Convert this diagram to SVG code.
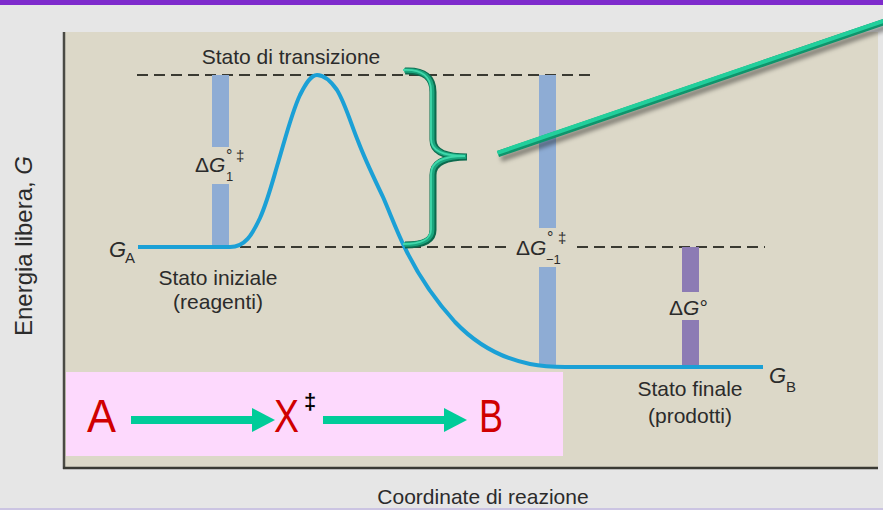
<svg xmlns="http://www.w3.org/2000/svg" width="883" height="510" viewBox="0 0 883 510">
  <style>
    .lbl { font-family: "Liberation Sans", Arial, sans-serif; font-size: 21px; fill: #2b2b2b; }
    .sym { font-family: "Liberation Sans", Arial, sans-serif; font-size: 21px; fill: #2b2b2b; }
    .it { font-style: italic; }
    .dash { stroke: #3a3a32; stroke-width: 2.2; stroke-dasharray: 11 6; fill: none; }
    .bbar { fill: #8eacd4; }
    .pbar { fill: #8c7bb4; }
    .big { font-family: "Liberation Sans", Arial, sans-serif; font-size: 47px; fill: #d00000; }
    .arrow { fill: #00cc99; }
  </style>
  <defs>
    <filter id="shadow" x="-10%" y="-50%" width="120%" height="200%">
      <feGaussianBlur stdDeviation="2"/>
    </filter>
  </defs>

  <!-- background -->
  <rect x="0" y="0" width="883" height="510" fill="#e6e6e6"/>
  <rect x="0" y="0" width="883" height="5" fill="#7e2bcc"/>
  <rect x="0" y="508" width="883" height="2" fill="#cbc4e2"/>

  <!-- plot area -->
  <g id="plot-area">
    <rect x="64" y="32" width="814" height="436" fill="#dcd8c8"/>
    <line x1="64" y1="32" x2="64" y2="469" stroke="#4a4a44" stroke-width="2.5"/>
    <line x1="63" y1="468" x2="878" y2="468" stroke="#3a3a34" stroke-width="2.5"/>
  </g>

  <!-- axis labels -->
  <g id="y-axis-label">
    <text class="lbl" text-anchor="middle" transform="translate(32,246) rotate(-90)" style="font-size:24px">Energia libera, <tspan class="it">G</tspan></text>
  </g>
  <g id="x-axis-label">
    <text class="lbl" x="483" y="504" text-anchor="middle">Coordinate di reazione</text>
  </g>

  <!-- pink reaction box -->
  <g id="reaction-box">
    <rect x="66" y="372" width="497" height="84" fill="#fdd9fd"/>
  </g>

  <!-- dashed reference lines -->
  <g id="reference-lines">
    <line class="dash" x1="137" y1="75" x2="592" y2="75"/>
    <line class="dash" x1="240" y1="247" x2="508" y2="247"/>
    <line class="dash" x1="577" y1="247" x2="765" y2="247"/>
  </g>

  <!-- energy bars -->
  <g id="bar-dG1">
    <rect class="bbar" x="212" y="75" width="17" height="72"/>
    <rect class="bbar" x="212" y="184" width="17" height="63"/>
    <text class="sym" x="195" y="172">Δ<tspan class="it">G</tspan></text>
    <text class="sym" x="226" y="161" style="font-size:16px">°</text>
    <text class="sym" x="226" y="181" style="font-size:13px">1</text>
    <text class="sym" x="236" y="161" style="font-size:15px">‡</text>
  </g>
  <g id="bar-dGm1">
    <rect class="bbar" x="539" y="75" width="17" height="153"/>
    <rect class="bbar" x="539" y="267" width="17" height="100"/>
    <text class="sym" x="516" y="255">Δ<tspan class="it">G</tspan></text>
    <text class="sym" x="547" y="243" style="font-size:16px">°</text>
    <text class="sym" x="546" y="264" style="font-size:13px">−1</text>
    <text class="sym" x="558" y="243" style="font-size:15px">‡</text>
  </g>
  <g id="bar-dG0">
    <rect class="pbar" x="682" y="247" width="17" height="45"/>
    <rect class="pbar" x="682" y="320" width="17" height="47"/>
    <text class="sym" x="669" y="315">Δ<tspan class="it">G</tspan>°</text>
  </g>

  <!-- energy curve -->
  <g id="energy-curve">
    <path d="M138,247 L230,247 C245,247 252,235 260,218 C268,200 274,176 278,163 C286,136 292,112 300,95 C306,83 311,75 317,75 C324,75 330,80 337,90 C345,103 351,124 358,141 C366,162 375,180 383,197 C390,213 397,232 405,248 C418,275 435,300 455,322 C475,343 500,358 530,364 C540,366 550,367 565,367 L763,367" fill="none" stroke="#1ba0d6" stroke-width="4"/>
  </g>

  <!-- state labels -->
  <g id="transition-state">
    <text class="lbl" x="291" y="64" text-anchor="middle">Stato di transizione</text>
  </g>
  <g id="initial-state">
    <text class="lbl" x="109" y="257" style="font-size:22px"><tspan class="it">G</tspan></text>
    <text class="lbl" x="125" y="263" style="font-size:15px">A</text>
    <text class="lbl" x="218" y="285" text-anchor="middle">Stato iniziale</text>
    <text class="lbl" x="218" y="309" text-anchor="middle">(reagenti)</text>
  </g>
  <g id="final-state">
    <text class="lbl" x="769" y="383" style="font-size:22px"><tspan class="it">G</tspan></text>
    <text class="lbl" x="786" y="392" style="font-size:15px">B</text>
    <text class="lbl" x="690" y="396" text-anchor="middle">Stato finale</text>
    <text class="lbl" x="690" y="423" text-anchor="middle">(prodotti)</text>
  </g>

  <!-- green bracket -->
  <g id="bracket">
    <path d="M405,71 C425,70 433,78 433,92 L433,140 C433,152 445,157 467,157 C445,157 433,163 433,175 L433,230 C433,240 425,245 405,245" fill="none" stroke="#0c6a4e" stroke-width="7"/>
    <path d="M405,71 C425,70 433,78 433,92 L433,140 C433,152 445,157 467,157 C445,157 433,163 433,175 L433,230 C433,240 425,245 405,245" fill="none" stroke="#1aa67e" stroke-width="4.5" transform="translate(-0.8,-0.5)"/>
    <path d="M405,71 C425,70 433,78 433,92 L433,140 C433,152 445,157 467,157 C445,157 433,163 433,175 L433,230 C433,240 425,245 405,245" fill="none" stroke="#40d8ab" stroke-width="1.8" transform="translate(-2,-1)"/>
  </g>

  <!-- green pointer line -->
  <g id="pointer-line">
    <line x1="498" y1="154" x2="890" y2="20" stroke="#000" stroke-opacity="0.4" stroke-width="6" transform="translate(3,5)" filter="url(#shadow)"/>
    <line x1="498" y1="154" x2="890" y2="20" stroke="#0f946c" stroke-width="6.5"/>
    <line x1="498" y1="154" x2="890" y2="20" stroke="#22cf9c" stroke-width="4" transform="translate(-0.5,-1.2)"/>
  </g>

  <!-- reaction scheme -->
  <g id="node-A">
    <text class="big" x="87" y="432" textLength="29" lengthAdjust="spacingAndGlyphs">A</text>
  </g>
  <g id="node-X">
    <text class="big" x="274" y="432" textLength="25" lengthAdjust="spacingAndGlyphs">X</text>
    <text x="304" y="409" font-family="Liberation Sans, Arial, sans-serif" font-size="22" font-weight="bold" fill="#000">‡</text>
  </g>
  <g id="node-B">
    <text class="big" x="479" y="432" textLength="24" lengthAdjust="spacingAndGlyphs">B</text>
  </g>
  <g id="connectors">
    <rect class="arrow" x="131" y="416" width="122" height="8"/>
    <polygon class="arrow" points="252,408 275,420 252,432"/>
    <rect class="arrow" x="323" y="416" width="122" height="8"/>
    <polygon class="arrow" points="444,408 467,420 444,432"/>
  </g>
</svg>
